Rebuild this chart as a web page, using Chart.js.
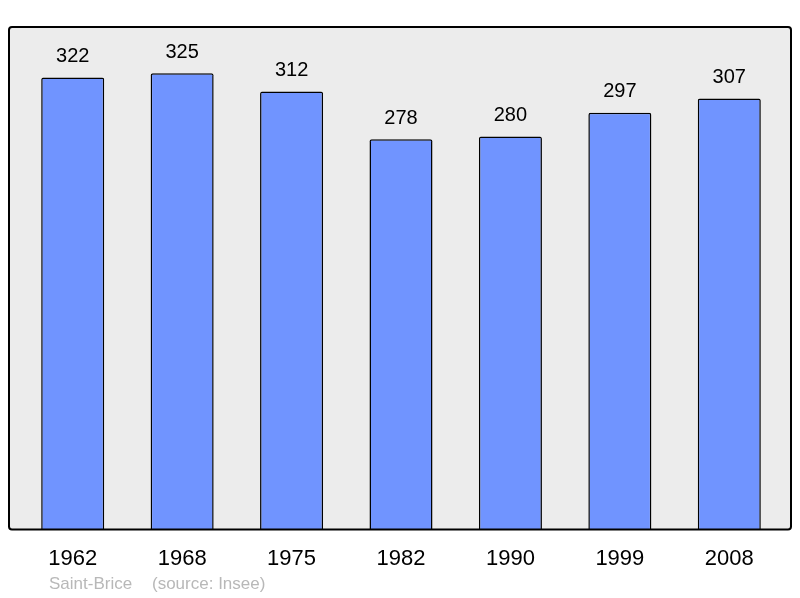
<!DOCTYPE html>
<html>
<head>
<meta charset="utf-8">
<script src="https://cdn.jsdelivr.net/npm/chart.js@4/dist/chart.umd.min.js"></script>
<style>
  html, body { margin: 0; padding: 0; background: #fff; }
  canvas { display: block; }
</style>
</head>
<body>
<canvas id="chart" width="800" height="598"></canvas>
<script>
const years = ["1962", "1968", "1975", "1982", "1990", "1999", "2008"];
const population = [322, 325, 312, 278, 280, 297, 307];
const commune = "Saint-Brice";
const source = "(source: Insee)";

const FONT = "'Liberation Sans', Arial, sans-serif";

// grey panel behind the bars, with a black frame on top
const framePlugin = {
  id: "frame",
  beforeDatasetsDraw(chart) {
    const { ctx, chartArea } = chart;
    ctx.save();
    ctx.fillStyle = "#ececec";
    ctx.beginPath();
    ctx.roundRect(9, chartArea.top, 782, chartArea.bottom - chartArea.top, 3);
    ctx.fill();
    ctx.restore();
  },
  afterDatasetsDraw(chart) {
    const { ctx, chartArea } = chart;
    ctx.save();
    ctx.strokeStyle = "#000";
    ctx.lineWidth = 2;
    ctx.beginPath();
    ctx.roundRect(9, chartArea.top, 782, chartArea.bottom - chartArea.top, 3);
    ctx.stroke();

    // values above bars
    const meta = chart.getDatasetMeta(0);
    ctx.fillStyle = "#000";
    ctx.font = "20px " + FONT;
    ctx.textAlign = "center";
    ctx.textBaseline = "middle";
    meta.data.forEach((bar, i) => {
      ctx.fillText(population[i], bar.x, bar.y - 21);
    });

    // footer
    ctx.fillStyle = "#b8b8b8";
    ctx.font = "17px " + FONT;
    ctx.textAlign = "left";
    ctx.fillText(commune, 49, 584);
    ctx.fillText(source, 152, 584);
    ctx.restore();
  },
};

new Chart(document.getElementById("chart"), {
  type: "bar",
  data: {
    labels: years,
    datasets: [
      {
        data: population,
        backgroundColor: "#7094ff",
        borderColor: "#000",
        borderWidth: 1.5,
        borderRadius: 2,
        borderSkipped: "bottom",
        barPercentage: 0.576,
        categoryPercentage: 1,
      },
    ],
  },
  options: {
    responsive: false,
    animation: false,
    devicePixelRatio: 1,
    layout: { padding: { left: 18, right: 16, top: 27, bottom: 18 } },
    plugins: { legend: { display: false }, tooltip: { enabled: false } },
    scales: {
      x: {
        grid: { display: false },
        border: { display: false },
        ticks: { color: "#000", font: { family: FONT, size: 22 }, padding: 8, maxRotation: 0 },
      },
      y: {
        display: false,
        min: 0,
        max: 358,
      },
    },
  },
  plugins: [framePlugin],
});
</script>
</body>
</html>
